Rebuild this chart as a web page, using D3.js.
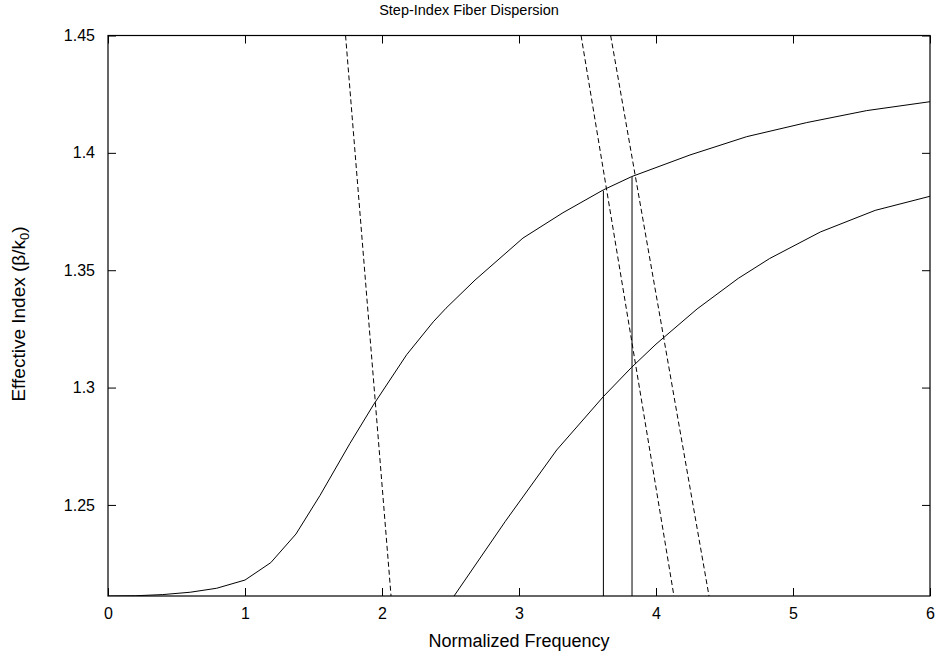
<!DOCTYPE html>
<html>
<head>
<meta charset="utf-8">
<script src="https://cdn.jsdelivr.net/npm/d3@7"></script>
<style>
  html, body { margin: 0; padding: 0; background: #fff; }
  text { font-family: "Liberation Sans", Arial, Helvetica, sans-serif; fill: #000; }
</style>
</head>
<body>
<svg id="chart" width="938" height="660"></svg>
<script>
// ---- Data ----
const titleText = "Step-Index Fiber Dispersion";
const xLabelText = "Normalized Frequency";

const xTicks = [0, 1, 2, 3, 4, 5, 6];
const xTickLabels = ["0", "1", "2", "3", "4", "5", "6"];
const yTicks = [1.25, 1.3, 1.35, 1.4, 1.45];
const yTickLabels = ["1.25", "1.3", "1.35", "1.4", "1.45"];

// Fundamental mode (upper solid curve)
const mode1V = [0, 0.2, 0.4, 0.6, 0.793, 1.0, 1.188, 1.372, 1.547, 1.766, 1.937, 2.18, 2.374, 2.467, 2.679, 3.029, 3.321, 3.615, 3.823, 4.248, 4.662, 5.1, 5.538, 6.0];
const mode1N = [1.2112, 1.2113, 1.2118, 1.2128, 1.2145, 1.218, 1.2254, 1.2376, 1.254, 1.2762, 1.2926, 1.314, 1.328, 1.3338, 1.3458, 1.3637, 1.3745, 1.3842, 1.3899, 1.3991, 1.4069, 1.4129, 1.418, 1.4218];

// Second mode (lower solid curve)
const mode2V = [2.526, 2.9, 3.275, 3.615, 3.82, 4.0, 4.3, 4.6, 4.83, 5.2, 5.6, 6.0];
const mode2N = [1.2112, 1.243, 1.2734, 1.2961, 1.3085, 1.3185, 1.3335, 1.3465, 1.355, 1.3663, 1.3755, 1.3815];

// Dashed straight lines: V at top (n=1.45) and V at bottom (n=1.2112)
const dashTopV = [1.734, 3.453, 3.669];
const dashBottomV = [2.066, 4.131, 4.387];
const dashTopN = 1.45;
const dashBottomN = 1.2112;

// Vertical solid markers
const markerV = [3.616, 3.825];
const markerN = [1.3839, 1.3899];

// ---- Layout ----
const svg = d3.select("#chart");
const mLeft = 108, mRight = 930, mTop = 35.5, mBottom = 596;

const x = d3.scaleLinear().domain([0, 6]).range([mLeft, mRight]);
const y = d3.scaleLinear().domain([1.2112, 1.45]).range([mBottom, mTop]);

const defs = svg.append("defs");
defs.append("clipPath").attr("id", "clip")
  .append("rect").attr("x", mLeft).attr("y", mTop).attr("width", mRight - mLeft).attr("height", mBottom - mTop);

const plot = svg.append("g").attr("clip-path", "url(#clip)");

const line = d3.line().x(d => x(d[0])).y(d => y(d[1]));

// Dashed lines
dashTopV.forEach((v, i) => {
  plot.append("path")
    .attr("d", line([[v, dashTopN], [dashBottomV[i], dashBottomN]]))
    .attr("fill", "none").attr("stroke", "#000").attr("stroke-width", 1)
    .attr("stroke-dasharray", "5,3");
});

// Vertical markers
markerV.forEach((v, i) => {
  plot.append("path")
    .attr("d", line([[v, dashBottomN], [v, markerN[i]]]))
    .attr("fill", "none").attr("stroke", "#000").attr("stroke-width", 1);
});

// Mode curves
plot.append("path")
  .attr("d", line(mode1V.map((v, i) => [v, mode1N[i]])))
  .attr("fill", "none").attr("stroke", "#000").attr("stroke-width", 1);
plot.append("path")
  .attr("d", line(mode2V.map((v, i) => [v, mode2N[i]])))
  .attr("fill", "none").attr("stroke", "#000").attr("stroke-width", 1);

// Axes with inward ticks (gnuplot style, mirrored)
const tickFont = 16;
const labelFont = 18;
const xAxis = d3.axisBottom(x).tickValues(xTicks).tickSize(-8).tickPadding(12)
  .tickFormat((d, i) => xTickLabels[i]);
const gx = svg.append("g").attr("transform", `translate(0,${mBottom})`).call(xAxis);

const yAxis = d3.axisLeft(y).tickValues(yTicks).tickSize(-8).tickPadding(13)
  .tickFormat((d, i) => yTickLabels[i]);
const gy = svg.append("g").attr("transform", `translate(${mLeft},0)`).call(yAxis);

const gxTop = svg.append("g").attr("transform", `translate(0,${mTop})`)
  .call(d3.axisTop(x).tickValues(xTicks).tickSize(-8).tickFormat(""));
const gyRight = svg.append("g").attr("transform", `translate(${mRight},0)`)
  .call(d3.axisRight(y).tickValues(yTicks).tickSize(-8).tickFormat(""));

[gx, gy, gxTop, gyRight].forEach(g => {
  g.select(".domain").remove();
  g.selectAll(".tick line").attr("stroke", "#000").attr("stroke-width", 1);
  g.selectAll("text").attr("font-size", tickFont).attr("font-family", null);
});

// Border
svg.append("rect")
  .attr("x", mLeft).attr("y", mTop).attr("width", mRight - mLeft).attr("height", mBottom - mTop)
  .attr("fill", "none").attr("stroke", "#000").attr("stroke-width", 1.2);

// Title
svg.append("text").attr("x", 469).attr("y", 15)
  .attr("text-anchor", "middle").attr("font-size", 14.5).text(titleText);

// X label
svg.append("text").attr("x", (mLeft + mRight) / 2).attr("y", 647)
  .attr("text-anchor", "middle").attr("font-size", labelFont).text(xLabelText);

// Y label with subscript
const yl = svg.append("text")
  .attr("transform", `translate(25,314) rotate(-90)`)
  .attr("text-anchor", "middle").attr("font-size", 19);
yl.append("tspan").text("Effective Index (β/k");
yl.append("tspan").attr("font-size", 13).attr("dy", 4).text("0");
yl.append("tspan").attr("dy", -4).text(")");
</script>
</body>
</html>
